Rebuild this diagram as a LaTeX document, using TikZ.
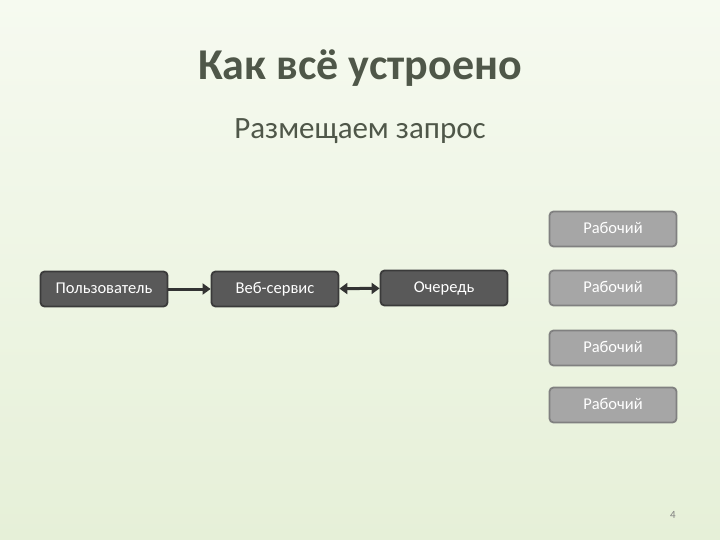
\documentclass[tikz,border=0pt]{standalone}
\usepackage{fontspec}
\setmainfont{Carlito}
\usetikzlibrary{arrows.meta}
\definecolor{bgtop}{HTML}{F6FAF0}
\definecolor{bgbot}{HTML}{E6F0D8}
\definecolor{titlec}{HTML}{4F5749}
\definecolor{darkfill}{HTML}{595959}
\definecolor{darkline}{HTML}{3A3A3A}
\definecolor{lightfill}{HTML}{A6A6A6}
\definecolor{lightline}{HTML}{808080}
\definecolor{arrowc}{HTML}{333333}
\tikzset{
  x=1pt, y=-1pt,
  boxbase/.style={line width=1.8pt, rounded corners=4pt,
    minimum width=127pt, minimum height=35pt, text=white,
    font=\fontsize{16.5}{19}\selectfont, inner sep=0pt, text height=9pt, text depth=0pt},
  darkbox/.style={boxbase, draw=darkline, fill=darkfill},
  lightbox/.style={boxbase, draw=lightline, fill=lightfill},
  conn/.style={draw=arrowc, line width=3pt},
}
\begin{document}
\begin{tikzpicture}
\shade[top color=bgtop, bottom color=bgbot] (0,0) rectangle (720,540);
\useasboundingbox (0,0) rectangle (720,540);
\node[text=titlec, font=\fontsize{44}{50}\selectfont\bfseries] (title) at (360,68) {Как всё устроено};
\node[text=titlec, font=\fontsize{31}{36}\selectfont] (sub) at (360,131) {Размещаем запрос};
\node[darkbox] (user) at (104,289) {Пользователь};
\node[darkbox] (web) at (275,289) {Веб-сервис};
\node[darkbox] (queue) at (444,288) {Очередь};
\node[lightbox] (w1) at (613,229) {Рабочий};
\node[lightbox] (w2) at (613,288) {Рабочий};
\node[lightbox] (w3) at (613,348) {Рабочий};
\node[lightbox] (w4) at (613,405) {Рабочий};
\draw[conn, -{Triangle[length=8pt,width=11pt]}] (user) -- (web);
\draw[conn, {Triangle[length=8pt,width=11pt]}-{Triangle[length=8pt,width=11pt]}] (web) -- (queue);
\node[text=lightline, font=\fontsize{11}{13}\selectfont] (page) at (673,515) {4};
\end{tikzpicture}
\end{document}
